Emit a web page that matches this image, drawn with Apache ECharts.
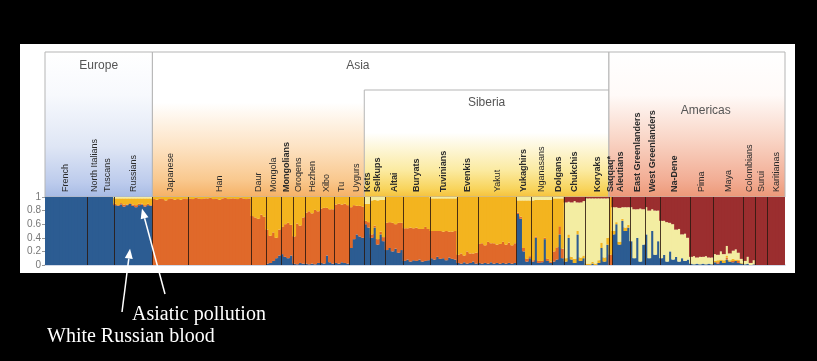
<!DOCTYPE html>
<html><head><meta charset="utf-8">
<script src="https://cdn.jsdelivr.net/npm/echarts@6/dist/echarts.min.js"></script>
<style>html,body{margin:0;padding:0;background:#000;}#c{width:817px;height:361px;}</style>
</head><body><div id="c"></div>
<script>
// ---------- DATA ----------
const populations = ['French','North Italians','Tuscans','Russians','Japanese','Han','Daur','Mongola','Mongolians','Oroqens','Hezhen','Xibo','Tu','Uygurs','Kets','Selkups','Altai','Buryats','Tuvinians','Evenkis','Yakut','Yukaghirs','Nganasans','Dolgans','Chukchis','Koryaks','Saqqaq*','Aleutians','East Greenlanders','West Greenlanders','Na-Dene','Pima','Maya','Colombians','Surui','Karitianas'];
const popCounts = [14,5,4,13,12,21,5,5,4,4,5,5,5,5,2,5,6,9,9,7,13,5,7,4,7,8,1,6,5,5,10,8,10,4,4,6];
const boldPops = ['Mongolians','Kets','Selkups','Altai','Buryats','Tuvinians','Evenkis','Yukaghirs','Dolgans','Chukchis','Koryaks','Saqqaq*','Aleutians','East Greenlanders','West Greenlanders','Na-Dene'];
const regionNames = ['Europe','Asia','Siberia','Americas'];
const regionFirstPop = [0,4,14,26];
const regionLastPop = [3,25,25,35];
const yTickLabels = ['0','0.2','0.4','0.6','0.8','1'];
const annotations = ['Asiatic pollution','White Russian blood'];

// ancestry fractions (percent) per individual, line per population
const blue = [
100,100,100,100,100,100,100,100,100,100,100,100,100,100,
100,100,100,100,100,
100,100,100,100,
88,87,89,86,88,90,87,85,88,89,86,88,87,
0,0,0,0,0,0,0,0,0,0,0,0,
0,0,0,0,0,0,0,0,0,0,0,0,0,0,0,0,0,0,0,0,0,
0,0,0,0,0,
2,3,6,10,14,
16,12,10,14,
2,1,3,2,
2,1,2,1,3,
3,2,14,4,2,
3,2,4,3,2,
25,38,45,42,40,
60,55,
40,55,30,45,35,
22,25,20,24,18,22,
6,8,5,7,6,8,5,6,7,
10,8,12,9,10,7,11,9,8,
3,2,4,2,3,5,2,
3,2,3,2,4,2,3,2,3,2,3,2,3,
75,68,20,5,10,
5,40,3,4,38,6,3,
5,8,45,10,
5,40,8,3,45,6,10,
0,0,2,0,3,25,5,30,
0,
45,60,30,65,50,55,
35,10,40,5,30,
45,10,50,15,35,
10,15,5,20,8,12,5,10,6,8,
2,1,2,1,2,1,2,1,
4,2,6,3,8,5,4,6,3,2,
1,2,0,1,
0,0,0,0,
0,0,0,0,0,0
];
const orange = [
0,0,0,0,0,0,0,0,0,0,0,0,0,0,
0,0,0,0,0,
0,0,0,0,
2,1,2,3,1,1,2,3,2,1,2,2,1,
97,96,98,97,95,97,98,96,97,96,98,97,
98,97,99,98,97,98,98,99,97,98,96,98,99,97,98,98,97,99,98,97,98,
72,70,68,74,71,
50,40,42,30,38,
40,48,52,45,
40,60,55,68,
75,78,74,80,76,
80,82,70,78,80,
86,88,85,87,86,
60,50,42,45,46,
5,8,
5,3,8,4,6,
40,38,42,36,44,40,
48,46,50,47,49,45,48,50,46,
40,42,38,41,39,43,38,40,42,
12,15,10,18,14,12,16,
28,30,26,32,28,30,27,29,31,28,30,27,29,
2,3,5,4,3,
2,2,3,2,2,3,2,
15,18,12,14,
0,0,0,0,0,0,0,
0,0,0,0,0,0,0,0,
15,
0,0,0,0,0,0,
0,0,0,0,0,
0,0,0,0,0,
0,0,0,0,0,0,0,0,0,0,
0,0,0,0,0,0,0,0,
0,2,0,0,3,0,2,0,3,0,
0,0,0,0,
0,0,0,0,
0,0,0,0,0,0
];
const yellow = [
0,0,0,0,0,0,0,0,0,0,0,0,0,0,
0,0,0,0,0,
0,0,0,0,
8,10,7,9,9,7,9,10,8,8,10,8,10,
3,4,2,3,5,3,2,4,3,4,2,3,
2,3,1,2,3,2,2,1,3,2,4,2,1,3,2,2,3,1,2,3,2,
28,30,32,26,29,
48,57,52,60,48,
44,40,38,41,
58,39,42,30,
23,21,24,19,21,
17,16,16,18,18,
11,10,11,10,12,
15,12,13,13,14,
25,27,
50,38,57,47,55,
38,37,38,40,38,38,
46,46,45,46,45,47,47,44,47,
48,48,48,48,49,48,49,49,48,
85,83,86,80,83,83,82,
69,68,71,66,68,68,70,69,66,70,67,71,68,
18,24,70,86,82,
88,54,90,90,56,87,91,
78,72,41,74,
5,5,4,6,5,5,4,
2,2,3,2,4,8,6,10,
85,
5,3,4,3,5,4,
0,0,0,0,0,
0,0,0,0,0,
0,0,0,0,0,0,0,0,0,0,
0,0,0,0,0,0,0,0,
2,3,2,4,3,2,3,2,2,1,
0,0,0,0,
0,0,0,0,
0,0,0,0,0,0
];
const pale = [
0,0,0,0,0,0,0,0,0,0,0,0,0,0,
0,0,0,0,0,
0,0,0,0,
2,2,2,2,2,2,2,2,2,2,2,2,2,
0,0,0,0,0,0,0,0,0,0,0,0,
0,0,0,0,0,0,0,0,0,0,0,0,0,0,0,0,0,0,0,0,0,
0,0,0,0,0,
0,0,0,0,0,
0,0,0,0,
0,0,0,0,
0,0,0,0,0,
0,0,0,0,0,
0,0,0,0,0,
0,0,0,0,0,
10,10,
5,4,5,4,4,
0,0,0,0,0,0,
0,0,0,0,0,0,0,0,0,
2,2,2,2,2,2,2,2,2,
0,0,0,0,0,0,0,
0,0,0,0,0,0,0,0,0,0,0,0,0,
5,5,5,5,5,
5,4,4,4,4,4,4,
2,2,2,2,
82,48,80,85,42,81,80,
96,96,93,96,91,65,87,58,
0,
35,22,50,17,30,26,
50,72,42,78,52,
40,70,32,65,45,
55,50,58,42,52,40,48,35,40,32,
10,12,9,11,10,12,9,10,
10,8,12,9,14,10,12,15,10,6,
5,10,3,6,
0,0,0,0,
0,0,0,0,0,0
];
const red = [
0,0,0,0,0,0,0,0,0,0,0,0,0,0,
0,0,0,0,0,
0,0,0,0,
0,0,0,0,0,0,0,0,0,0,0,0,0,
0,0,0,0,0,0,0,0,0,0,0,0,
0,0,0,0,0,0,0,0,0,0,0,0,0,0,0,0,0,0,0,0,0,
0,0,0,0,0,
0,0,0,0,0,
0,0,0,0,
0,0,0,0,
0,0,0,0,0,
0,0,0,0,0,
0,0,0,0,0,
0,0,0,0,0,
0,0,
0,0,0,0,0,
0,0,0,0,0,0,
0,0,0,0,0,0,0,0,0,
0,0,0,0,0,0,0,0,0,
0,0,0,0,0,0,0,
0,0,0,0,0,0,0,0,0,0,0,0,0,
0,0,0,0,0,
0,0,0,0,0,0,0,
0,0,0,0,
8,7,8,6,8,8,6,
2,2,2,2,2,2,2,2,
0,
15,15,16,15,15,15,
15,18,18,17,18,
15,20,18,20,20,
35,35,37,38,40,48,47,55,54,60,
88,87,89,88,88,87,89,89,
84,85,80,84,72,83,79,77,82,91,
94,88,97,93,
100,100,100,100,
100,100,100,100,100,100
];

// ---------- CHART ----------
const individuals = blue.map((_, i) => 'ind' + i);
const comps = [
  {name:'blue', data:blue, color:'#2c5c92'},
  {name:'orange', data:orange, color:'#e0692a'},
  {name:'yellow', data:yellow, color:'#f3b41f'},
  {name:'pale', data:pale, color:'#f3eda2'},
  {name:'red', data:red, color:'#9b2e2f'}
];
const chart = echarts.init(document.getElementById('c'));
chart.setOption({
  backgroundColor:'#000',
  animation:false,
  grid:{left:45, right:32, top:197, bottom:96},
  xAxis:{type:'category', data:individuals, axisLabel:{show:false}, axisTick:{show:false},
    axisLine:{show:true, lineStyle:{color:'#c3cde0', width:1.5}}},
  yAxis:{type:'value', min:0, max:1, interval:0.2, splitLine:{show:false},
    axisLine:{show:false}, axisTick:{show:true, length:3, lineStyle:{color:'#999'}},
    axisLabel:{fontSize:10, color:'#777', fontFamily:'Arial', margin:4,
      formatter:(v)=>yTickLabels[Math.round(v*5)]}},
  series: comps.map(c => ({
    type:'bar', name:c.name, stack:'q', barWidth:3.9,
    data:c.data.map(v=>v/100),
    itemStyle:{color:c.color, borderWidth:0},
    emphasis:{disabled:true}, silent:true, z:2
  }))
});

const starts=[]; let acc=0; popCounts.forEach(c=>{starts.push(acc); acc+=c;});
const px0 = chart.convertToPixel({xAxisIndex:0}, 0);
const px1 = chart.convertToPixel({xAxisIndex:0}, 1);
const bw = px1 - px0;
const edge = k => px0 + (k - 0.5) * bw;
const yTop = chart.convertToPixel({yAxisIndex:0}, 1);
const yBot = chart.convertToPixel({yAxisIndex:0}, 0);
const G = echarts.graphic;

const grads = {
  Europe: [[0,'#ffffff'],[0.3,'#f7f9fd'],[0.65,'#dfe6f5'],[0.9,'#bccbec'],[1,'#a6bae4']],
  Asia: [[0,'#ffffff'],[0.35,'#ffffff'],[0.65,'#fde3c4'],[0.88,'#f9c88e'],[1,'#f5b064']],
  Siberia: [[0,'#ffffff'],[0.4,'#ffffff'],[0.75,'#fbeaa0'],[0.92,'#f8d45c'],[1,'#f5c03a']],
  Americas: [[0,'#ffffff'],[0.3,'#fffaf8'],[0.6,'#f9d5c6'],[0.88,'#f2ad94'],[1,'#ec9877']]
};
const regTop = {Europe:52, Asia:52, Siberia:90, Americas:52};
const regLabel = {Europe:[0.5,66], Asia:[0.45,66], Siberia:[0.5,103], Americas:[0.55,111]};

const els = [];
els.push({type:'rect', z:-5, shape:{x:20,y:44,width:775,height:229}, style:{fill:'#ffffff'}});
regionNames.forEach((r, i) => {
  const xl = edge(starts[regionFirstPop[i]]);
  const last = regionLastPop[i];
  const xr = edge(starts[last] + popCounts[last]);
  const top = regTop[r];
  els.push({type:'rect', z:-2, shape:{x:xl, y:top, width:xr-xl, height:yTop-top},
    style:{fill:new G.LinearGradient(0,0,0,1, grads[r].map(s=>({offset:s[0], color:s[1]}))),
      stroke:'#b5b5b5', lineWidth:1}});
  els.push({type:'text', z:3, x: xl + (xr-xl)*regLabel[r][0], y: regLabel[r][1],
    style:{text:r, fontSize:12, fontFamily:'Arial', fill:'#555', align:'center', verticalAlign:'middle'}});
});
populations.forEach((p, i) => {
  const cx = edge(starts[i] + popCounts[i]/2);
  els.push({type:'text', z:4, x:cx, y:yTop-5, rotation:Math.PI/2,
    style:{text:p, fontSize:9, fontFamily:'Arial', fontWeight: boldPops.includes(p)?'bold':'normal',
      fill:'#2a2a2a', align:'left', verticalAlign:'middle'}});
  if (i > 0 && p !== 'Tuscans') {
    const x = Math.round(edge(starts[i])) + 0.5;
    els.push({type:'line', z:10, shape:{x1:x, y1:yTop, x2:x, y2:yBot},
      style:{stroke:'rgba(45,25,15,0.85)', lineWidth:1}});
  }
});

function arrow(x1, y1, x2, y2) {
  const a = Math.atan2(y2-y1, x2-x1), L = 10, W = 4;
  const bx = x2 - L*Math.cos(a), by = y2 - L*Math.sin(a);
  const nx = -Math.sin(a)*W, ny = Math.cos(a)*W;
  els.push({type:'line', z:20, shape:{x1, y1, x2:bx, y2:by}, style:{stroke:'#fff', lineWidth:1.5}});
  els.push({type:'polygon', z:20, shape:{points:[[x2,y2],[bx+nx,by+ny],[bx-nx,by-ny]]}, style:{fill:'#fff'}});
}
const t1 = chart.convertToPixel({xAxisIndex:0, yAxisIndex:0}, [28, 0.24]);
const t2 = chart.convertToPixel({xAxisIndex:0, yAxisIndex:0}, [32, 0.83]);
arrow(122, 312, t1[0], t1[1]);
arrow(165, 294, t2[0], t2[1]);
els.push({type:'text', z:20, x:132, y:315, style:{text:annotations[0], fontSize:20, fontFamily:'"Liberation Serif", "Times New Roman", serif', fill:'#fff', align:'left', verticalAlign:'middle'}});
els.push({type:'text', z:20, x:47, y:337, style:{text:annotations[1], fontSize:20, fontFamily:'"Liberation Serif", "Times New Roman", serif', fill:'#fff', align:'left', verticalAlign:'middle'}});

chart.setOption({graphic:{elements:els}});
</script></body></html>
